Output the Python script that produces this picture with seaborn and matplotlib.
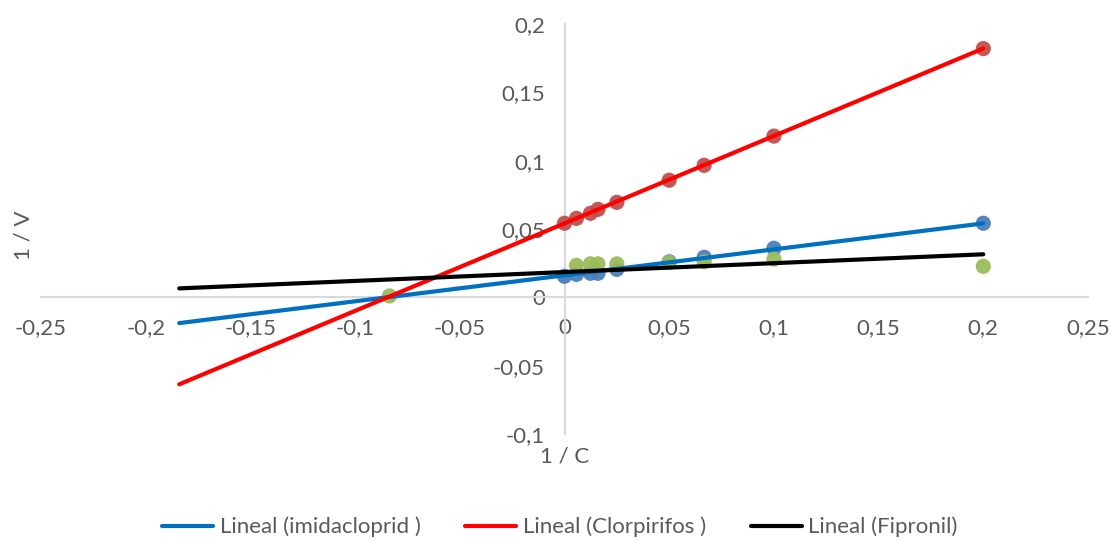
import numpy as np
import pandas as pd
import matplotlib
matplotlib.use("Agg")
import matplotlib.pyplot as plt
import seaborn as sns
from matplotlib.ticker import FuncFormatter, MultipleLocator

# measured points (1/C, 1/V)
x_imida = [0.0, 0.0057, 0.0124, 0.016, 0.025, 0.05, 0.0667, 0.1, 0.2]
y_imida = [0.0154, 0.0168, 0.0176, 0.0176, 0.0205, 0.026, 0.0293, 0.0359, 0.0542]

x_clorp = [0.0, 0.0057, 0.0124, 0.016, 0.025, 0.05, 0.0667, 0.1, 0.2]
y_clorp = [0.0542, 0.0578, 0.0615, 0.0644, 0.0695, 0.0857, 0.0966, 0.118, 0.182]

x_fipro = [-0.0836, 0.0057, 0.0124, 0.016, 0.025, 0.05, 0.0667, 0.1, 0.2]
y_fipro = [0.001, 0.0234, 0.0245, 0.0245, 0.0245, 0.0256, 0.026, 0.028, 0.0227]

# linear trendlines (slope, intercept) as drawn by Excel, with backward forecast
trend_names = ['Lineal (imidacloprid )', 'Lineal (Clorpirifos )', 'Lineal (Fipronil)']
trend_slopes = [0.19, 0.640, 0.065]
trend_intercepts = [0.0161, 0.0541, 0.0185]
trend_x_range = [-0.184, 0.2]

sns.set_style('white')
plt.rcParams['font.family'] = ['Lato', 'DejaVu Sans']

fig = plt.figure(figsize=(11.12, 5.40), dpi=100)
ax = fig.add_axes([41 / 1112, 1 - 434 / 540, 1047 / 1112, 410 / 540])

# scatter points
point_sets = [(x_imida, y_imida, '#4a7ebb'), (x_clorp, y_clorp, '#c0504d'), (x_fipro, y_fipro, '#9bbb59')]
for xs, ys, col in point_sets:
    sns.scatterplot(x=xs, y=ys, ax=ax, color=col, s=120, edgecolor='none',
                    alpha=0.95, legend=False, zorder=3)

# trendlines
line_colors = ['#0070c0', '#ff0000', '#000000']
for name, m, b, col in zip(trend_names, trend_slopes, trend_intercepts, line_colors):
    tx = np.array(trend_x_range)
    df = pd.DataFrame({'x': tx, 'y': m * tx + b})
    sns.lineplot(data=df, x='x', y='y', ax=ax, color=col, linewidth=3, label=name, zorder=4)

ax.set_xlim(-0.25, 0.25)
ax.set_ylim(-0.1, 0.2)
ax.xaxis.set_major_locator(MultipleLocator(0.05))
ax.yaxis.set_major_locator(MultipleLocator(0.05))

fmt = FuncFormatter(lambda v, p: ('%g' % round(v, 4)).replace('.', ','))
ax.xaxis.set_major_formatter(fmt)
ax.yaxis.set_major_formatter(fmt)

for side in ['top', 'right']:
    ax.spines[side].set_visible(False)
for side in ['left', 'bottom']:
    ax.spines[side].set_position(('data', 0))
    ax.spines[side].set_color('#d9d9d9')
    ax.spines[side].set_linewidth(1.5)
    ax.spines[side].set_zorder(1)

ax.tick_params(axis='both', length=0, labelsize=16, labelcolor='#595959', pad=14)
ax.tick_params(axis='x', pad=15)

ax.set_xlabel('1 / C', fontsize=16, color='#595959')
ax.set_ylabel('1 / V', fontsize=16, color='#595959')
ax.xaxis.set_label_coords(0.5005, -0.03)
ax.yaxis.set_label_coords(-0.007, 0.485)

ax.legend(loc='center', bbox_to_anchor=(560 / 1112, 1 - 527 / 540), bbox_transform=fig.transFigure,
          ncol=3, frameon=False, fontsize=16, handlelength=2.3, handletextpad=0.3,
          columnspacing=2.0, labelcolor='#595959')

fig.savefig('out.png', dpi=100)
